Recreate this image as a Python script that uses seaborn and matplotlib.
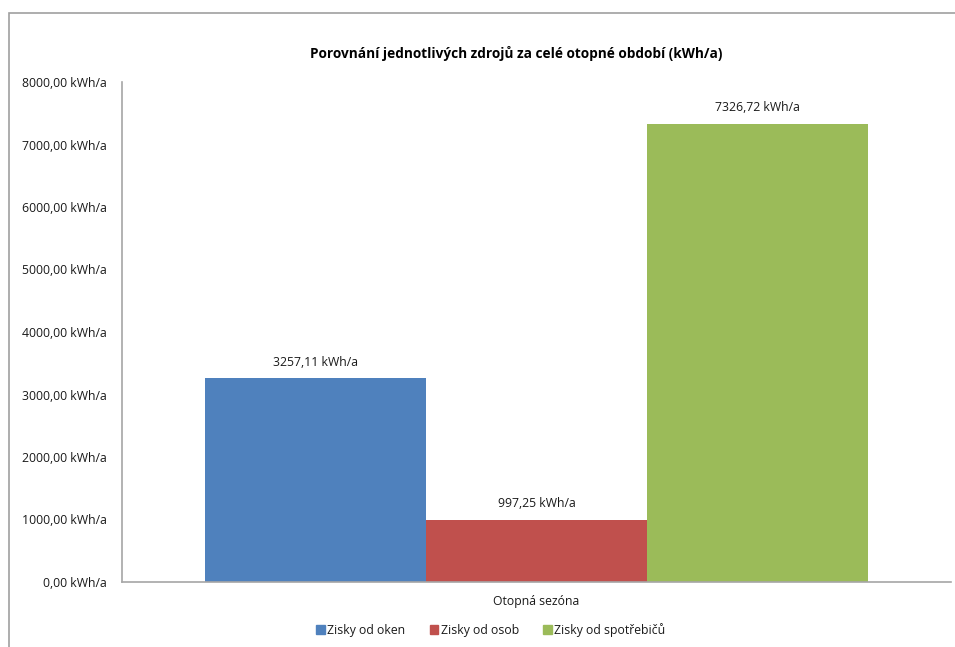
import matplotlib
matplotlib.use("Agg")
import matplotlib.pyplot as plt
import matplotlib.patches as mpatches
import seaborn as sns
import pandas as pd

# ==============================
# DATA
# ==============================
season = ["Otopná sezóna"]
sources = ["Zisky od oken", "Zisky od osob", "Zisky od spotřebičů"]
gains_kwh = [3257.11, 997.25, 7326.72]
bar_colors = ["#4F81BD", "#C0504D", "#9BBB59"]
y_ticks = [0, 1000, 2000, 3000, 4000, 5000, 6000, 7000, 8000]

df = pd.DataFrame({
    "season": season * len(sources),
    "source": sources,
    "value": gains_kwh,
})


def cz(v):
    return f"{v:.2f}".replace(".", ",") + " kWh/a"


# ==============================
# PLOT
# ==============================
sns.set_style("white")
plt.rcParams["font.family"] = ["Open Sans", "DejaVu Sans"]

fig = plt.figure(figsize=(9.55, 6.47), dpi=100)
ax = fig.add_axes([122 / 955, 65 / 647, 829 / 955, 500 / 647])

sns.barplot(data=df, x="season", y="value", hue="source", hue_order=sources,
            palette=bar_colors, width=0.8, dodge=True, saturation=1,
            edgecolor="none", linewidth=0, ax=ax, legend=True)

ax.set_ylim(0, 8000)
ax.set_xlim(-0.5, 0.5)
ax.set_yticks(y_ticks)
ax.set_yticklabels([cz(t) for t in y_ticks], fontsize=8.8, color="#1a1a1a")
ax.tick_params(axis="x", labelsize=8.8, colors="#1a1a1a", length=0, pad=9)
ax.tick_params(axis="y", length=0, pad=11)
ax.set_xlabel("")
ax.set_ylabel("")

for s in ["top", "right"]:
    ax.spines[s].set_visible(False)
for s in ["left", "bottom"]:
    ax.spines[s].set_color("#a6a6a6")
    ax.spines[s].set_linewidth(1.2)

# value labels above bars
for cont in ax.containers:
    ax.bar_label(cont, labels=[cz(b.get_height()) for b in cont],
                 padding=7, fontsize=8.8, color="#1a1a1a")

ax.set_title("Porovnání jednotlivých zdrojů za celé otopné období (kWh/a)",
             fontsize=9.8, fontweight="bold", pad=17, x=0.476, color="#000000")

handles = [mpatches.Patch(color=c, label=l) for c, l in zip(bar_colors, sources)]
ax.legend(handles=handles, loc="center", bbox_to_anchor=(0.445, -0.096),
          ncol=3, frameon=False, fontsize=8.8, handlelength=0.7, handleheight=0.7,
          handletextpad=0.2, columnspacing=2.0, labelcolor="#1a1a1a")

# outer chart frame
frame = mpatches.Rectangle((9 / 955, -0.1), 2, (647 - 12.5) / 647 + 0.1,
                           transform=fig.transFigure, fill=False,
                           edgecolor="#a0a0a0", linewidth=1.2)
fig.patches.append(frame)

fig.savefig("out.png", dpi=100)
